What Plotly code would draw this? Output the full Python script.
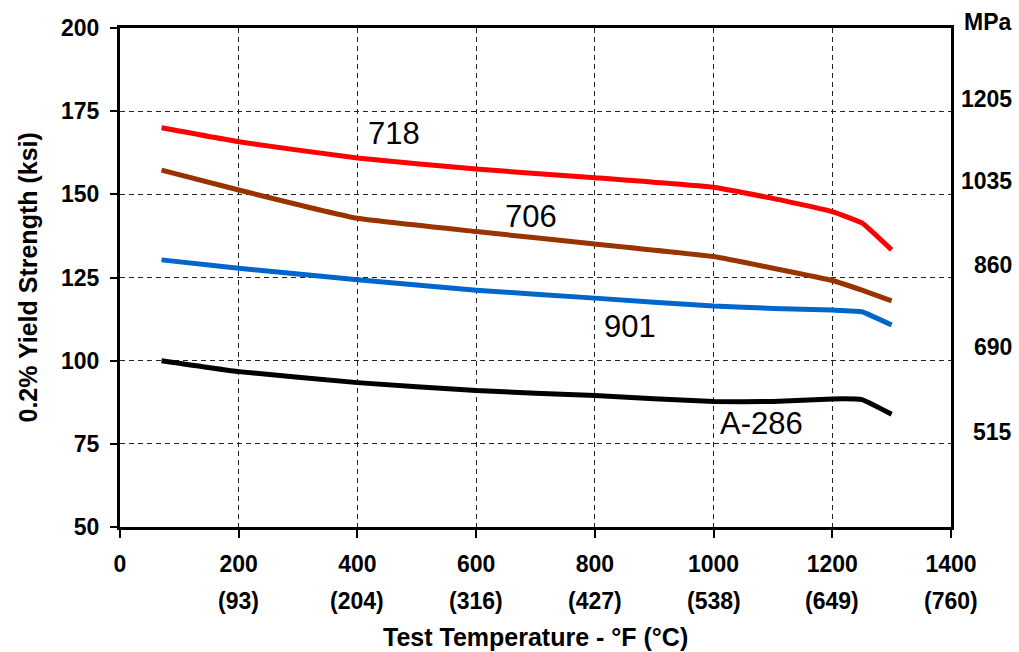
import plotly.graph_objects as go

# ---- data ----
temps_f = [70, 200, 400, 600, 800, 1000, 1100, 1200, 1250, 1300]
alloy_718 = [170.0, 165.8, 160.9, 157.6, 155.0, 152.1, 148.8, 144.8, 141.4, 133.3]
alloy_706 = [157.3, 151.3, 142.8, 138.8, 135.1, 131.3, 127.8, 124.1, 121.2, 118.0]
alloy_901 = [130.3, 127.8, 124.3, 121.2, 118.8, 116.4, 115.7, 115.2, 114.7, 110.7]
alloy_a286 = [100.0, 96.7, 93.4, 91.0, 89.5, 87.7, 87.7, 88.5, 88.3, 83.9]

series_names = ["718", "706", "901", "A-286"]
series_values = [alloy_718, alloy_706, alloy_901, alloy_a286]
series_colors = ["#ff0000", "#993300", "#0066cc", "#000000"]

# label anchor points (data coords)
label_x = [462, 693, 860, 1081]
label_y = [168.3, 143.2, 110.4, 81.1]

x_ticks_f = [0, 200, 400, 600, 800, 1000, 1200, 1400]
x_ticks_c = ["", "(93)", "(204)", "(316)", "(427)", "(538)", "(649)", "(760)"]
y_ticks = [50, 75, 100, 125, 150, 175, 200]
mpa_labels = [1205, 1035, 860, 690, 515]
KSI_PER_MPA = 1 / 6.895

x_title = "Test Temperature - °F (°C)"
y_title = "0.2% Yield Strength (ksi)"

FONT = "Liberation Sans, Arial, sans-serif"
BOLD = dict(family=FONT, size=23, color="black", weight="bold")

fig = go.Figure()
for name, vals, col in zip(series_names, series_values, series_colors):
    fig.add_trace(go.Scatter(
        x=temps_f, y=vals, mode="lines", name=name,
        line=dict(color=col, width=5, shape="spline", smoothing=0.3),
        showlegend=False, hoverinfo="skip"))

annotations = []
for name, lx, ly in zip(series_names, label_x, label_y):
    annotations.append(dict(x=lx, y=ly, xref="x", yref="y", text=name,
                            showarrow=False,
                            font=dict(family=FONT, size=31, color="black")))

for xv, ct in zip(x_ticks_f, x_ticks_c):
    if ct:
        annotations.append(dict(x=xv, y=0, xref="x", yref="paper", text=ct,
                                showarrow=False, yanchor="middle", yshift=-74,
                                font=BOLD))

for m in mpa_labels:
    annotations.append(dict(x=1.0, y=m * KSI_PER_MPA, xref="paper", yref="y",
                            xanchor="right", yanchor="bottom", xshift=63, yshift=-2,
                            text=str(m), showarrow=False, font=BOLD))
annotations.append(dict(x=1.0, y=200, xref="paper", yref="y", xanchor="right",
                        yanchor="middle", xshift=63, yshift=6, text="MPa",
                        showarrow=False, font=BOLD))

annotations.append(dict(x=0.5, y=0, xref="paper", yref="paper", text=x_title,
                        showarrow=False, yanchor="middle", yshift=-110,
                        font=dict(family=FONT, size=25, color="black", weight="bold")))
annotations.append(dict(x=0, y=0.5, xref="paper", yref="paper", text=y_title,
                        showarrow=False, xanchor="center", xshift=-93, textangle=-90,
                        font=dict(family=FONT, size=25, color="black", weight="bold")))

axis_common = dict(
    showline=True, linecolor="black", linewidth=3, mirror=True,
    showgrid=True, gridcolor="#222222", gridwidth=1, griddash="5px,4px",
    ticks="outside", tickcolor="black", tickwidth=2,
    zeroline=False, automargin=False,
    tickfont=BOLD,
)

fig.update_layout(
    width=1019, height=652,
    margin=dict(l=120, r=68, t=28, b=125, autoexpand=False),
    paper_bgcolor="white", plot_bgcolor="white",
    xaxis=dict(range=[0, 1400], tickvals=x_ticks_f, ticklen=8,
               ticklabelstandoff=6, **axis_common),
    yaxis=dict(range=[50, 200], tickvals=y_ticks, ticklen=7,
               ticklabelstandoff=6, **axis_common),
    annotations=annotations,
)

fig.write_html("out.html", config={"displayModeBar": False},
               post_script="document.body.style.margin='0';document.body.style.overflow='hidden';")
